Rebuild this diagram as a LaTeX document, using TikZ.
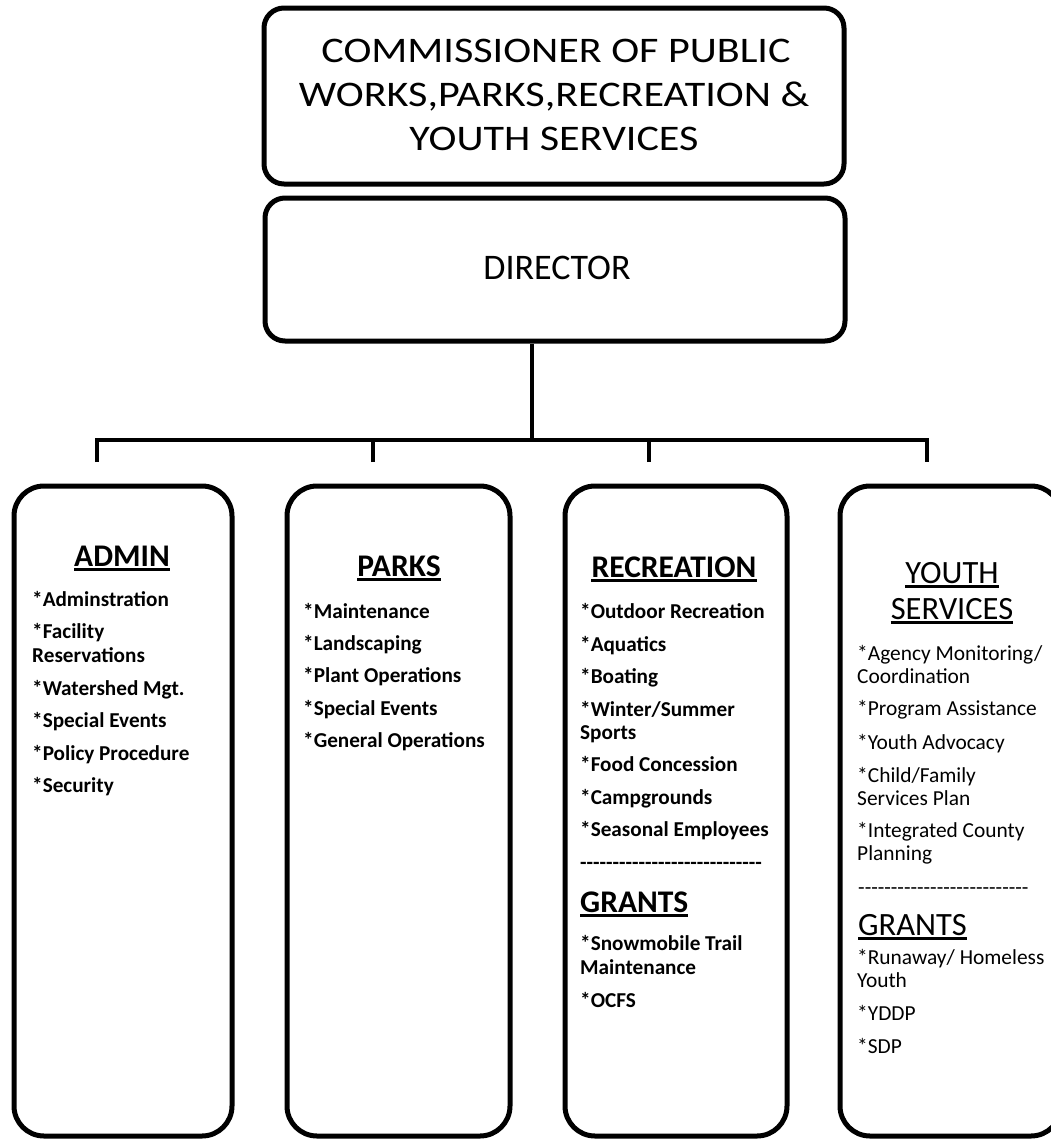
\documentclass[tikz,border=0pt]{standalone}
\usepackage{fontspec}
\setmainfont{Carlito}
\newfontfamily\ttlfont[FakeStretch=1.17]{Carlito}
\begin{document}
\begin{tikzpicture}[x=1pt,y=-1pt,
  topbox/.style={draw,line width=5pt,rounded corners=20pt,minimum width=580pt,inner sep=0pt},
  deptbox/.style={draw,line width=5pt,rounded corners=30pt,minimum height=650pt,inner sep=0pt},
  conn/.style={line width=4.5pt},
  ul/.style={line width=3pt},
  ttl/.style={anchor=base,inner sep=0pt,font=\ttlfont\fontsize{36}{44}\selectfont},
  dirs/.style={anchor=base,inner sep=0pt,font=\fontsize{36}{44}\selectfont},
  hd/.style={anchor=base,inner sep=0pt,font=\fontsize{31.5}{34}\selectfont\bfseries},
  hdl/.style={anchor=base west,inner sep=0pt,font=\fontsize{31.5}{34}\selectfont\bfseries},
  yhd/.style={anchor=base,inner sep=0pt,font=\fontsize{32.5}{34}\selectfont},
  yhdl/.style={anchor=base west,inner sep=0pt,font=\fontsize{32.5}{34}\selectfont},
  item/.style={anchor=base west,inner sep=0pt,font=\fontsize{21.2}{23}\selectfont\bfseries},
  yitem/.style={anchor=base west,inner sep=0pt,font=\fontsize{21.4}{23}\selectfont}]
\clip (0,0) rectangle (1051,1141);
\fill[white] (0,0) rectangle (1051,1141);

% top boxes
\node[topbox,minimum height=176pt] (comm) at (554,96) {};
\node[ttl] (t1) at (556,62.6) {COMMISSIONER OF PUBLIC};
\node[ttl] (t2) at (554,106.6) {WORKS,PARKS,RECREATION \&};
\node[ttl] (t3) at (554,150.6) {YOUTH SERVICES};

\node[topbox,minimum height=143pt] (dir) at (555,269.5) {};
\node[dirs] (dirt) at (557,279.6) {DIRECTOR};

% department boxes
\node[deptbox,minimum width=218pt] (b1) at (123,811) {};
\node[deptbox,minimum width=223pt] (b2) at (398.5,811) {};
\node[deptbox,minimum width=222pt] (b3) at (676,811) {};
\node[deptbox,minimum width=221pt] (b4) at (950.5,811) {};

% connectors
\coordinate (hub) at (532,440);
\coordinate (d1) at (97,462);
\coordinate (d2) at (373,462);
\coordinate (d3) at (649,462);
\coordinate (d4) at (927,462);
\draw[conn] (dir.south -| hub) -- (hub);
\draw[conn] (d1) -- (d1 |- hub) -- (d4 |- hub) -- (d4);
\draw[conn] (d2) -- (d2 |- hub);
\draw[conn] (d3) -- (d3 |- hub);

% ADMIN
\node[hd] (h1) at (122,566.7) {ADMIN};
\draw[ul] ([yshift=-2.5pt]h1.base west) -- ([yshift=-2.5pt]h1.base east);
\node[item] (a1) at (32,606) {*Adminstration};
\node[item] (a2) at (32,638) {*Facility};
\node[item] (a3) at (32,662) {Reservations};
\node[item] (a4) at (32,695) {*Watershed Mgt.};
\node[item] (a5) at (32,727) {*Special Events};
\node[item] (a6) at (32,760) {*Policy Procedure};
\node[item] (a7) at (32,792) {*Security};

% PARKS
\node[hd] (h2) at (399,576.7) {PARKS};
\draw[ul] ([yshift=-2.5pt]h2.base west) -- ([yshift=-2.5pt]h2.base east);
\node[item] (p1) at (303,618) {*Maintenance};
\node[item] (p2) at (303,650) {*Landscaping};
\node[item] (p3) at (303,682) {*Plant Operations};
\node[item] (p4) at (303,715) {*Special Events};
\node[item] (p5) at (303,747) {*General Operations};

% RECREATION
\node[hd] (h3) at (674,577.7) {RECREATION};
\draw[ul] ([yshift=-2.5pt]h3.base west) -- ([yshift=-2.5pt]h3.base east);
\node[item] (r1) at (580,618) {*Outdoor Recreation};
\node[item] (r2) at (580,651) {*Aquatics};
\node[item] (r3) at (580,683) {*Boating};
\node[item] (r4) at (580,716) {*Winter/Summer};
\node[item] (r5) at (580,739) {Sports};
\node[item] (r6) at (580,771) {*Food Concession};
\node[item] (r7) at (580,804) {*Campgrounds};
\node[item] (r8) at (580,836) {*Seasonal Employees};
\node[item] (r9) at (580,869) {-{}-{}-{}-{}-{}-{}-{}-{}-{}-{}-{}-{}-{}-{}-{}-{}-{}-{}-{}-{}-{}-{}-{}-{}-{}-{}-{}-};
\node[hdl] (g3) at (580,912.5) {GRANTS};
\draw[ul] ([yshift=-2.5pt]g3.base west) -- ([yshift=-2.5pt]g3.base east);
\node[item] (r10) at (580,950) {*Snowmobile Trail};
\node[item] (r11) at (580,974) {Maintenance};
\node[item] (r12) at (580,1007) {*OCFS};

% YOUTH SERVICES
\node[yhd] (h4a) at (952,583.5) {YOUTH};
\draw[ul] ([yshift=-2.5pt]h4a.base west) -- ([yshift=-2.5pt]h4a.base east);
\node[yhd] (h4b) at (952,619.5) {SERVICES};
\draw[ul] ([yshift=-2.5pt]h4b.base west) -- ([yshift=-2.5pt]h4b.base east);
\node[yitem] (y1) at (857,660) {*Agency Monitoring/};
\node[yitem] (y2) at (857,683) {Coordination};
\node[yitem] (y3) at (857,715) {*Program Assistance};
\node[yitem] (y4) at (857,749) {*Youth Advocacy};
\node[yitem] (y5) at (857,782) {*Child/Family};
\node[yitem] (y6) at (857,805) {Services Plan};
\node[yitem] (y7) at (857,837) {*Integrated County};
\node[yitem] (y8) at (857,860) {Planning};
\node[yitem] (y9) at (858,894) {-{}-{}-{}-{}-{}-{}-{}-{}-{}-{}-{}-{}-{}-{}-{}-{}-{}-{}-{}-{}-{}-{}-{}-{}-{}-};
\node[yhdl] (g4) at (858,935.5) {GRANTS};
\draw[ul] ([yshift=-2.5pt]g4.base west) -- ([yshift=-2.5pt]g4.base east);
\node[yitem] (y10) at (857,964) {*Runaway/ Homeless};
\node[yitem] (y11) at (857,987) {Youth};
\node[yitem] (y12) at (857,1020) {*YDDP};
\node[yitem] (y13) at (857,1053) {*SDP};
\end{tikzpicture}
\end{document}
